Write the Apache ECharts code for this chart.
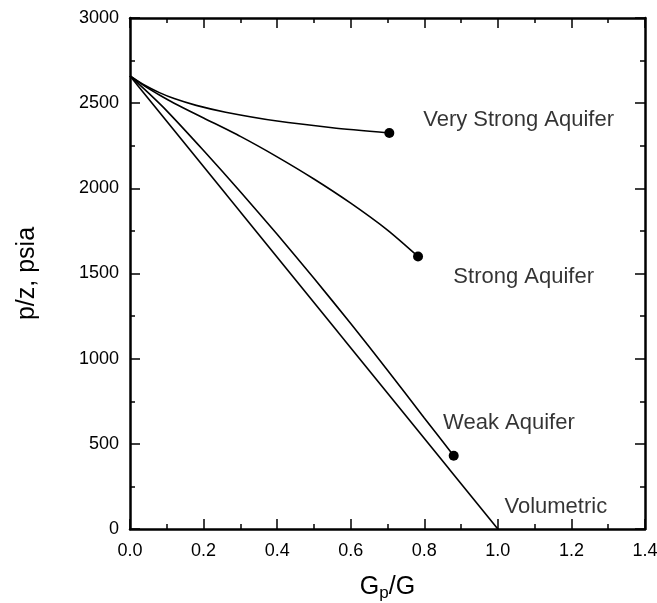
<!DOCTYPE html>
<html>
<head>
<meta charset="utf-8">
<script src="https://cdn.jsdelivr.net/npm/echarts@6/dist/echarts.min.js"></script>
<style>
  html, body { margin: 0; padding: 0; background: #fff; }
  #chart { width: 657px; height: 603px; }
</style>
</head>
<body>
<div id="chart"></div>
<script>
// p/z versus cumulative recovery Gp/G for different aquifer strengths
const gpgVeryStrong = [0, 0.04, 0.08, 0.12, 0.18, 0.26, 0.4, 0.55, 0.705];
const pzVeryStrong  = [2660, 2605, 2562, 2527, 2487, 2447, 2395, 2356, 2325];

const gpgStrong = [0, 0.04, 0.08, 0.12, 0.2, 0.3, 0.4, 0.5, 0.6, 0.7, 0.783];
const pzStrong  = [2660, 2600, 2548, 2500, 2413, 2305, 2185, 2055, 1913, 1755, 1600];

const gpgWeak = [0, 0.05, 0.1, 0.2, 0.3, 0.4, 0.5, 0.6, 0.7, 0.8, 0.88];
const pzWeak  = [2660, 2560, 2455, 2222, 1980, 1730, 1472, 1206, 932, 652, 430];

const gpgVolumetric = [0, 1.0];
const pzVolumetric  = [2660, 0];

// curve names and where their captions sit (data coordinates)
const curveNames = ['Very Strong Aquifer', 'Strong Aquifer', 'Weak Aquifer', 'Volumetric'];
const captionGpg = [0.797, 0.879, 0.851, 1.018];
const captionPz  = [2403, 1480, 620, 132];

const xTicks = [0, 0.2, 0.4, 0.6, 0.8, 1.0, 1.2, 1.4];
const yTicks = [0, 500, 1000, 1500, 2000, 2500, 3000];

const FONT = '"Liberation Sans", Arial, Helvetica, sans-serif';
const INK = '#000';

function pairs(xs, ys) {
  return xs.map((x, i) => [x, ys[i]]);
}

function curve(name, xs, ys, withEndDot) {
  const n = xs.length;
  return {
    name: name,
    type: 'line',
    data: pairs(xs, ys),
    smooth: 0.25,
    showAllSymbol: true,
    symbol: 'circle',
    symbolSize: (v, p) => (withEndDot && p.dataIndex === n - 1 ? 10 : 0),
    itemStyle: { color: INK },
    lineStyle: { color: INK, width: 1.6 },
    silent: true,
    z: 3
  };
}

function frameAxis(base) {
  return Object.assign({
    min: 0,
    axisLine: { show: true, onZero: false, lineStyle: { color: INK, width: 2.5 } },
    axisTick: { show: true, inside: true, length: 10, lineStyle: { color: INK, width: 1.5 } },
    minorTick: { show: true, splitNumber: 2, length: 5, lineStyle: { color: INK, width: 1.5 } },
    splitLine: { show: false },
    minorSplitLine: { show: false }
  }, base);
}

const chart = echarts.init(document.getElementById('chart'));

chart.setOption({
  animation: false,
  backgroundColor: '#fff',
  grid: { left: 130, right: 12, top: 18, bottom: 74, outerBoundsMode: 'none' },
  xAxis: [
    frameAxis({
      type: 'value', position: 'bottom', max: xTicks[xTicks.length - 1], interval: 0.2,
      axisLabel: { fontSize: 18, color: INK, fontFamily: FONT, margin: 13,
                   formatter: v => v.toFixed(1) },
      name: '{g|G}{p|p}{g|/G}',
      nameLocation: 'middle',
      nameGap: 43,
      nameTextStyle: {
        fontFamily: FONT, color: INK,
        rich: {
          g: { fontSize: 25, lineHeight: 30, verticalAlign: 'middle', fontFamily: FONT, color: INK },
          p: { fontSize: 17, lineHeight: 17, verticalAlign: 'bottom', fontFamily: FONT, color: INK }
        }
      }
    }),
    frameAxis({
      type: 'value', position: 'top', max: xTicks[xTicks.length - 1], interval: 0.2,
      axisLabel: { show: false }
    })
  ],
  yAxis: [
    frameAxis({
      type: 'value', position: 'left', max: yTicks[yTicks.length - 1], interval: 500,
      axisLabel: { fontSize: 18, color: INK, fontFamily: FONT, margin: 11,
                   formatter: v => String(v) },
      name: 'p/z, psia',
      nameLocation: 'middle',
      nameGap: 90,
      nameTextStyle: { fontSize: 25, color: INK, fontFamily: FONT }
    }),
    frameAxis({
      type: 'value', position: 'right', max: yTicks[yTicks.length - 1], interval: 500,
      axisLabel: { show: false }
    })
  ],
  series: [
    curve(curveNames[0], gpgVeryStrong, pzVeryStrong, true),
    curve(curveNames[1], gpgStrong, pzStrong, true),
    curve(curveNames[2], gpgWeak, pzWeak, true),
    curve(curveNames[3], gpgVolumetric, pzVolumetric, false),
    {
      name: 'captions',
      type: 'scatter',
      symbolSize: 0,
      silent: true,
      data: curveNames.map((nm, i) => ({ name: nm, value: [captionGpg[i], captionPz[i]] })),
      label: {
        show: true,
        position: 'right',
        distance: 0,
        formatter: p => p.name,
        fontSize: 22,
        fontFamily: FONT,
        color: INK
      },
      z: 4
    }
  ]
});
</script>
</body>
</html>
